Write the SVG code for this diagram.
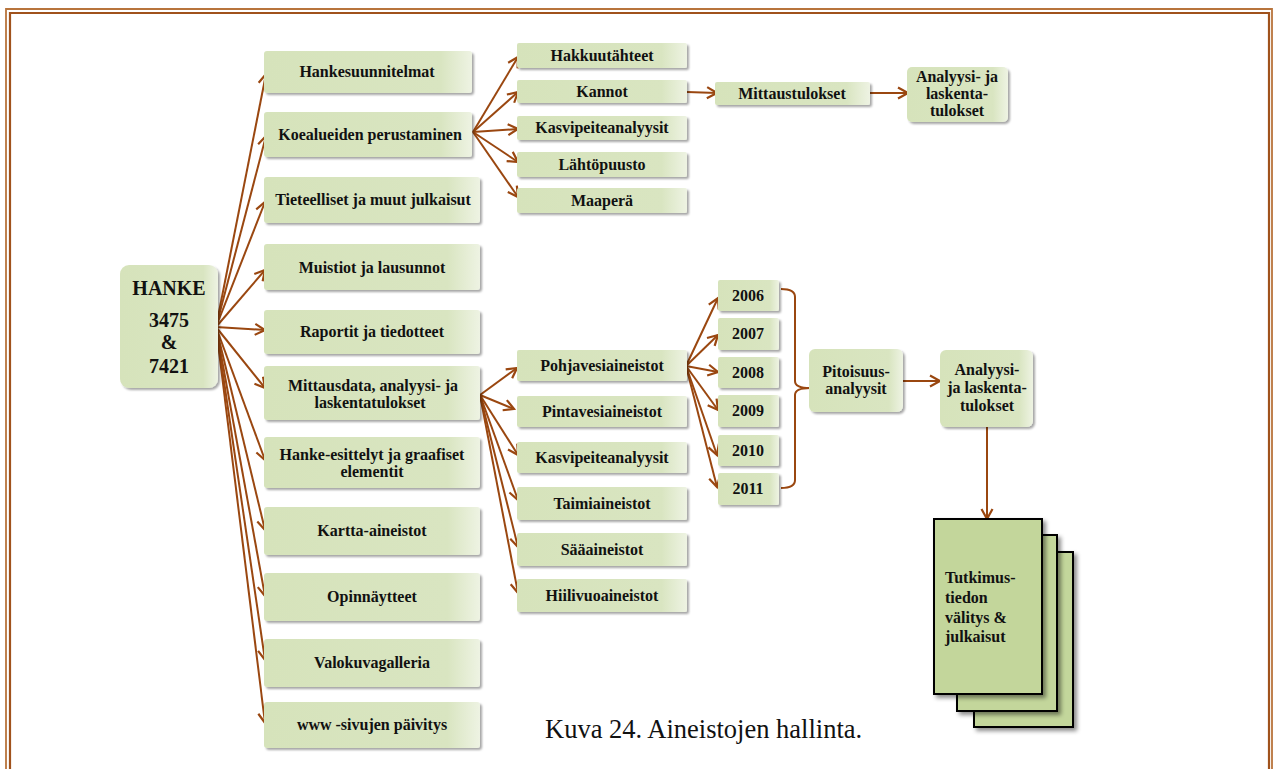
<svg xmlns="http://www.w3.org/2000/svg" width="1274" height="769" viewBox="0 0 1274 769">
<style>
.box{fill:url(#g);filter:url(#sh)}
.t{font-family:"Liberation Serif","Times New Roman",serif;font-weight:bold;font-size:16px;fill:#111;text-anchor:middle}
.tl{font-family:"Liberation Serif","Times New Roman",serif;font-weight:bold;font-size:16px;fill:#111}
.c{stroke:#9a4710;stroke-width:2;fill:none;marker-end:url(#ah)}
.doc{fill:#c3d69b;stroke:#000;stroke-width:2;filter:url(#sh2)}
</style>
<defs>
<linearGradient id="g" x1="0" y1="0" x2="1" y2="0">
<stop offset="0" stop-color="#d6e3bb"/>
<stop offset="0.85" stop-color="#d9e5c1"/>
<stop offset="1" stop-color="#eef3e3"/>
</linearGradient>
<filter id="sh" x="-10%" y="-20%" width="130%" height="150%">
<feDropShadow dx="2" dy="2" stdDeviation="1.3" flood-color="#000" flood-opacity="0.35"/>
</filter>
<filter id="sh2" x="-10%" y="-10%" width="130%" height="130%">
<feDropShadow dx="3" dy="3" stdDeviation="2" flood-color="#000" flood-opacity="0.45"/>
</filter>
<marker id="ah" markerUnits="userSpaceOnUse" markerWidth="16" markerHeight="16" viewBox="0 0 16 16" refX="12" refY="8" orient="auto">
<path d="M2,2.5 L12,8 L2,13.5" fill="none" stroke="#9a4710" stroke-width="2.2"/>
</marker>
</defs>
<rect width="1274" height="769" fill="#fff"/>
<g id="frame" fill="none">
<path d="M6,769 V9 H1272 V769" stroke="#b8743c" stroke-width="1.8"/>
<path d="M10,769 V13 H1269 V769" stroke="#a0521c" stroke-width="2.2"/>
</g>
<g id="connectors">
<path class="c" d="M216,327 L266,74"/>
<path class="c" d="M216,327 L266,136"/>
<path class="c" d="M216,327 L265,202"/>
<path class="c" d="M216,327 L265,270"/>
<path class="c" d="M216,327 L265,330"/>
<path class="c" d="M216,327 L265,388"/>
<path class="c" d="M216,327 L265,460"/>
<path class="c" d="M216,327 L265,530"/>
<path class="c" d="M216,327 L265,596"/>
<path class="c" d="M216,327 L265,660"/>
<path class="c" d="M216,327 L265,723"/>
<path class="c" d="M473,132 L518,57"/>
<path class="c" d="M473,132 L518,92"/>
<path class="c" d="M473,132 L518,129"/>
<path class="c" d="M473,132 L518,162"/>
<path class="c" d="M473,132 L518,197"/>
<path class="c" d="M687,92 L717,93"/>
<path class="c" d="M870,93 L908,93"/>
<path class="c" d="M480,395 L517,368"/>
<path class="c" d="M480,395 L514,409"/>
<path class="c" d="M480,395 L518,455"/>
<path class="c" d="M480,395 L518,500"/>
<path class="c" d="M480,395 L518,547"/>
<path class="c" d="M480,395 L518,593"/>
<path class="c" d="M686,366 L718,298"/>
<path class="c" d="M686,366 L718,335"/>
<path class="c" d="M686,366 L718,372"/>
<path class="c" d="M686,366 L718,410"/>
<path class="c" d="M686,366 L717,455"/>
<path class="c" d="M686,366 L717,487"/>
<path class="c" d="M903,381 L940,381"/>
<path class="c" d="M987,427 L987,519"/>
<path d="M781,289 Q795,289 795,297 L795,381 Q795,388 810,388 Q795,388 795,395 L795,480 Q795,488 781,488" fill="none" stroke="#9a4710" stroke-width="2"/>
</g>
<g id="hanke">
<rect class="box" x="120" y="265" width="98" height="123" rx="9"/>
<text class="t" x="169" y="295" style="font-size:20px">HANKE</text>
<text class="t" x="169" y="327" style="font-size:20px">3475</text>
<text class="t" x="169" y="349" style="font-size:20px">&amp;</text>
<text class="t" x="169" y="373" style="font-size:20px">7421</text>
</g>
<g id="hankesuunnitelmat"><rect class="box" x="264" y="51" width="208" height="42" rx="3"/><text class="t" x="367" y="77">Hankesuunnitelmat</text></g>
<g id="koealueiden"><rect class="box" x="264" y="112" width="208" height="45" rx="3"/><text class="t" x="370" y="140">Koealueiden perustaminen</text></g>
<g id="tieteelliset"><rect class="box" x="264" y="177" width="216" height="46" rx="3"/><text class="t" x="373" y="205">Tieteelliset ja muut julkaisut</text></g>
<g id="muistiot"><rect class="box" x="264" y="244" width="216" height="46" rx="3"/><text class="t" x="372" y="273">Muistiot ja lausunnot</text></g>
<g id="raportit"><rect class="box" x="264" y="310" width="216" height="44" rx="3"/><text class="t" x="372" y="337">Raportit ja tiedotteet</text></g>
<g id="mittausdata"><rect class="box" x="264" y="366" width="216" height="54" rx="3"/><text class="t" x="373" y="391">Mittausdata, analyysi- ja</text><text class="t" x="370" y="408">laskentatulokset</text></g>
<g id="hanke-esittelyt"><rect class="box" x="264" y="437" width="216" height="51" rx="3"/><text class="t" x="372" y="460">Hanke-esittelyt ja graafiset</text><text class="t" x="372" y="477">elementit</text></g>
<g id="kartta"><rect class="box" x="264" y="507" width="216" height="48" rx="3"/><text class="t" x="372" y="536">Kartta-aineistot</text></g>
<g id="opinnaytteet"><rect class="box" x="264" y="573" width="216" height="48" rx="3"/><text class="t" x="372" y="602">Opinnäytteet</text></g>
<g id="valokuvagalleria"><rect class="box" x="264" y="639" width="216" height="48" rx="3"/><text class="t" x="372" y="668">Valokuvagalleria</text></g>
<g id="www"><rect class="box" x="264" y="702" width="216" height="46" rx="3"/><text class="t" x="372" y="730">www -sivujen päivitys</text></g>
<g id="hakkuutahteet"><rect class="box" x="517" y="43" width="170" height="25" rx="2"/><text class="t" x="602" y="61">Hakkuutähteet</text></g>
<g id="kannot"><rect class="box" x="517" y="80" width="170" height="23" rx="2"/><text class="t" x="602" y="97">Kannot</text></g>
<g id="kasvipeite1"><rect class="box" x="517" y="116" width="170" height="24" rx="2"/><text class="t" x="602" y="133">Kasvipeiteanalyysit</text></g>
<g id="lahtopuusto"><rect class="box" x="517" y="152" width="170" height="25" rx="2"/><text class="t" x="602" y="170">Lähtöpuusto</text></g>
<g id="maapera"><rect class="box" x="517" y="188" width="170" height="25" rx="2"/><text class="t" x="602" y="206">Maaperä</text></g>
<g id="mittaustulokset"><rect class="box" x="715" y="82" width="155" height="23" rx="2"/><text class="t" x="792" y="99">Mittaustulokset</text></g>
<g id="analyysi1"><rect class="box" x="907" y="67" width="101" height="55" rx="5"/><text class="t" x="957" y="82">Analyysi- ja</text><text class="t" x="957" y="99">laskenta-</text><text class="t" x="957" y="116">tulokset</text></g>
<g id="pohjavesi"><rect class="box" x="517" y="350" width="170" height="31" rx="2"/><text class="t" x="602" y="371">Pohjavesiaineistot</text></g>
<g id="pintavesi"><rect class="box" x="517" y="396" width="170" height="31" rx="2"/><text class="t" x="602" y="417">Pintavesiaineistot</text></g>
<g id="kasvipeite2"><rect class="box" x="517" y="442" width="170" height="31" rx="2"/><text class="t" x="602" y="463">Kasvipeiteanalyysit</text></g>
<g id="taimi"><rect class="box" x="517" y="487" width="170" height="33" rx="2"/><text class="t" x="602" y="509">Taimiaineistot</text></g>
<g id="saa"><rect class="box" x="517" y="533" width="170" height="33" rx="2"/><text class="t" x="602" y="555">Sääaineistot</text></g>
<g id="hiilivuo"><rect class="box" x="517" y="579" width="170" height="33" rx="2"/><text class="t" x="602" y="601">Hiilivuoaineistot</text></g>
<g id="y2006"><rect class="box" x="718" y="280" width="61" height="31" rx="2"/><text class="t" x="748" y="301">2006</text></g>
<g id="y2007"><rect class="box" x="718" y="318" width="61" height="32" rx="2"/><text class="t" x="748" y="339">2007</text></g>
<g id="y2008"><rect class="box" x="718" y="357" width="61" height="31" rx="2"/><text class="t" x="748" y="378">2008</text></g>
<g id="y2009"><rect class="box" x="718" y="395" width="61" height="32" rx="2"/><text class="t" x="748" y="416">2009</text></g>
<g id="y2010"><rect class="box" x="718" y="435" width="61" height="31" rx="2"/><text class="t" x="748" y="456">2010</text></g>
<g id="y2011"><rect class="box" x="718" y="473" width="61" height="32" rx="2"/><text class="t" x="748" y="494">2011</text></g>
<g id="pitoisuus"><rect class="box" x="809" y="349" width="94" height="63" rx="6"/><text class="t" x="856" y="377">Pitoisuus-</text><text class="t" x="856" y="394">analyysit</text></g>
<g id="analyysi2"><rect class="box" x="940" y="350" width="93" height="77" rx="6"/><text class="t" x="987" y="375">Analyysi-</text><text class="t" x="987" y="393">ja laskenta-</text><text class="t" x="987" y="411">tulokset</text></g>
<g id="documents">
<rect class="doc" x="974" y="552" width="99" height="175"/>
<rect class="doc" x="957" y="535" width="100" height="176"/>
<rect class="doc" x="934" y="519" width="108" height="175"/>
<text class="tl" x="945" y="583">Tutkimus-</text>
<text class="tl" x="945" y="603">tiedon</text>
<text class="tl" x="945" y="623">välitys &amp;</text>
<text class="tl" x="945" y="642">julkaisut</text>
</g>
<text id="caption" x="545" y="738" font-family="'Liberation Serif','Times New Roman',serif" font-size="26.5" fill="#111">Kuva 24. Aineistojen hallinta.</text>
</svg>
